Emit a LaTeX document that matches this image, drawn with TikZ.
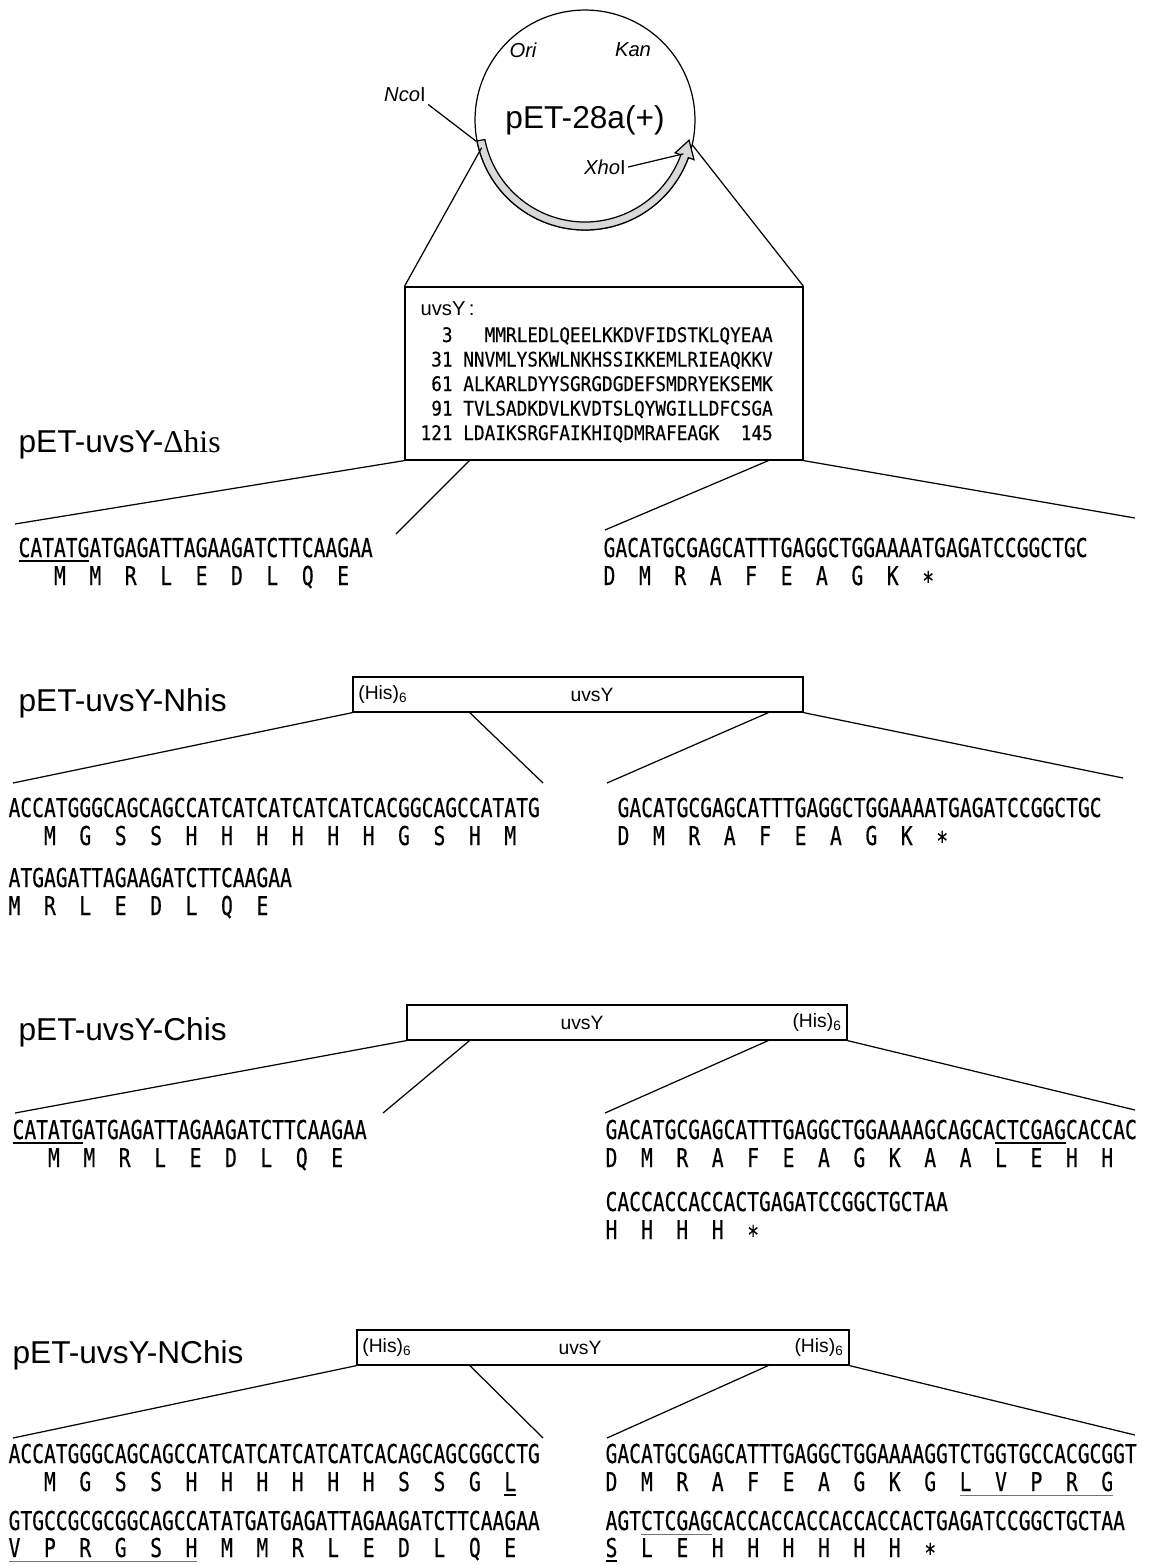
\documentclass[tikz,border=0pt]{standalone}
\usepackage{fontspec}
\setmainfont{Liberation Serif}
\setsansfont{Liberation Sans}
\newfontfamily\seqfont[FakeStretch=0.754, FakeBold=0.4]{DejaVu Sans Mono}
\newfontfamily\boxseqfont[FakeStretch=0.885, FakeBold=0.3]{DejaVu Sans Mono}
\usetikzlibrary{shapes, positioning, calc}
\newcommand\seqline[1]{\setbox0\hbox{#1}\rlap{\rule[-2.6pt]{\wd0}{1pt}}\box0}
\newcommand\seqgline[1]{\setbox0\hbox{#1}\rlap{\color{black!55}\rule[-2.6pt]{\wd0}{0.6pt}}\box0}

\begin{document}
\begin{tikzpicture}[x=0.02cm, y=0.02cm, line width=0.7pt]
\tikzset{title/.style={font=\fontsize{18pt}{20pt}\sffamily, anchor=base west, inner sep=0pt},
  seq/.style={font={\fontsize{14.8pt}{16pt}\seqfont\spaceskip=\fontcharwd\font`0\relax}, anchor=base west, inner sep=0pt},
  boxtxt/.style={font={\fontsize{11.4pt}{13pt}\boxseqfont\spaceskip=\fontcharwd\font`0\relax}, anchor=base west, inner sep=0pt},
  prot/.style={draw, rectangle, minimum height=0.7cm, inner sep=0pt},
  tag/.style={font=\fontsize{11pt}{12pt}\sffamily, inner sep=3pt},
  site/.style={font=\fontsize{11.5pt}{13pt}\sffamily, inner sep=1pt}}
\fill[white] (0,0) rectangle (1151,-1565);

% vector
\node[circle, draw, minimum size=4.4cm, inner sep=0pt, font=\fontsize{18pt}{20pt}\sffamily] (V) at (585,-120) {pET-28a(+)};
\begin{scope}[shift={(V.center)}]
\filldraw[fill=gray!30] (191:110) arc[start angle=191, end angle=340, radius=110] -- (340:116) -- (349:106) -- (340:96) -- (340:102) arc[start angle=340, end angle=191, radius=102] -- cycle;
\coordinate (ncoend) at (191:111);
\coordinate (xhoend) at (341:104);
\coordinate (c1) at (195:107);
\coordinate (c2) at (347:110);
\end{scope}
\node[site, font=\fontsize{11.5pt}{13pt}\sffamily\itshape] (ori) at (523,-50) {Ori};
\node[site, font=\fontsize{11.5pt}{13pt}\sffamily\itshape] (kan) at (633,-50) {Kan};
\node[site] (nco) at (405,-95) {\textit{Nco}I};
\node[site] (xho) at (605,-167) {\textit{Xho}I};
\draw (nco.south east) -- (ncoend);
\draw (xho.east) -- (xhoend);

% uvsY
\node[draw, rectangle, minimum width=7.96cm, minimum height=3.46cm] (B1) at (604,-373.5) {};
\draw (c1) -- (B1.north west); \draw (c2) -- (B1.north east);
\node[anchor=base west, inner sep=0pt, font=\fontsize{11.5pt}{13pt}\sffamily] (L0) at (420,-315) {uvsY\,:};
\node[boxtxt] (L1) at (420,-342) {~~3~~~MMRLEDLQEELKKDVFIDSTKLQYEAA};
\node[boxtxt] (L2) at (420,-366.5) {~31~NNVMLYSKWLNKHSSIKKEMLRIEAQKKV};
\node[boxtxt] (L3) at (420,-391) {~61~ALKARLDYYSGRGDGDEFSMDRYEKSEMK};
\node[boxtxt] (L4) at (420,-415.5) {~91~TVLSADKDVLKVDTSLQYWGILLDFCSGA};
\node[boxtxt] (L5) at (420,-440) {121~LDAIKSRGFAIKHIQDMRAFEAGK~~145};

% delta his
\node[title] (T1) at (18,-452) {pET-uvsY-{\rmfamily Δhis}};
\node[seq] (S1a) at (18,-557) {\seqline{CATATG}ATGAGATTAGAAGATCTTCAAGAA};
\node[seq] (A1a) at (18,-585) {~~~M~~M~~R~~L~~E~~D~~L~~Q~~E};
\node[seq] (S1b) at (603,-557) {GACATGCGAGCATTTGAGGCTGGAAAATGAGATCCGGCTGC};
\node[seq] (A1b) at (603,-585) {D~~M~~R~~A~~F~~E~~A~~G~~K~~∗};
\coordinate (B1l) at ($(B1.south west)!0.163!(B1.south east)$);
\coordinate (B1r) at ($(B1.south west)!0.912!(B1.south east)$);
\coordinate (r1a) at (15,-524); \coordinate (r1b) at (396,-534);
\coordinate (r1c) at (605,-530); \coordinate (r1d) at (1135,-518);
\draw (B1.south west) -- (r1a); \draw (B1l) -- (r1b);
\draw (B1r) -- (r1c); \draw (B1.south east) -- (r1d);

% N his
\node[title] (T2) at (18,-711) {pET-uvsY-Nhis};
\node[prot, minimum width=9cm] (B2) at (578,-694.5) {};
\node[tag, anchor=west] (H2) at (B2.west) {(His)\textsubscript{6}};
\node[tag] (U2) at (592,-694.5) {uvsY};
\node[seq] (S2a) at (8,-817) {ACCATGGGCAGCAGCCATCATCATCATCATCACGGCAGCCATATG};
\node[seq] (A2a) at (8,-845) {~~~M~~G~~S~~S~~H~~H~~H~~H~~H~~H~~G~~S~~H~~M};
\node[seq] (S2b) at (8,-887) {ATGAGATTAGAAGATCTTCAAGAA};
\node[seq] (A2b) at (8,-915) {M~~R~~L~~E~~D~~L~~Q~~E};
\node[seq] (S2c) at (617,-817) {GACATGCGAGCATTTGAGGCTGGAAAATGAGATCCGGCTGC};
\node[seq] (A2c) at (617,-845) {D~~M~~R~~A~~F~~E~~A~~G~~K~~∗};
\coordinate (B2l) at ($(B2.south west)!0.26!(B2.south east)$);
\coordinate (B2r) at ($(B2.south west)!0.922!(B2.south east)$);
\coordinate (r2a) at (13,-783); \coordinate (r2b) at (543,-783);
\coordinate (r2c) at (607,-783); \coordinate (r2d) at (1123,-778);
\draw (B2.south west) -- (r2a); \draw (B2l) -- (r2b);
\draw (B2r) -- (r2c); \draw (B2.south east) -- (r2d);

% C his
\node[title] (T3) at (18,-1040) {pET-uvsY-Chis};
\node[prot, minimum width=8.8cm] (B3) at (627,-1022.5) {};
\node[tag] (U3) at (582,-1022.5) {uvsY};
\node[tag, anchor=east] (H3) at (B3.east) {(His)\textsubscript{6}};
\node[seq] (S3a) at (12,-1139) {\seqline{CATATG}ATGAGATTAGAAGATCTTCAAGAA};
\node[seq] (A3a) at (12,-1167) {~~~M~~M~~R~~L~~E~~D~~L~~Q~~E};
\node[seq] (S3b) at (605,-1139) {GACATGCGAGCATTTGAGGCTGGAAAAGCAGCA\seqline{CTCGAG}CACCAC};
\node[seq] (A3b) at (605,-1167) {D~~M~~R~~A~~F~~E~~A~~G~~K~~A~~A~~L~~E~~H~~H};
\node[seq] (S3c) at (605,-1211) {CACCACCACCACTGAGATCCGGCTGCTAA};
\node[seq] (A3c) at (605,-1239) {H~~H~~H~~H~~∗};
\coordinate (B3l) at ($(B3.south west)!0.143!(B3.south east)$);
\coordinate (B3r) at ($(B3.south west)!0.82!(B3.south east)$);
\coordinate (r3a) at (15,-1113); \coordinate (r3b) at (383,-1113);
\coordinate (r3c) at (605,-1113); \coordinate (r3d) at (1135,-1110);
\draw (B3.south west) -- (r3a); \draw (B3l) -- (r3b);
\draw (B3r) -- (r3c); \draw (B3.south east) -- (r3d);

% NC his
\node[title] (T4) at (12,-1363) {pET-uvsY-NChis};
\node[prot, minimum width=9.84cm] (B4) at (603,-1347.5) {};
\node[tag, anchor=west] (H4a) at (B4.west) {(His)\textsubscript{6}};
\node[tag] (U4) at (580,-1347.5) {uvsY};
\node[tag, anchor=east] (H4b) at (B4.east) {(His)\textsubscript{6}};
\node[seq] (S4a) at (8,-1463) {ACCATGGGCAGCAGCCATCATCATCATCATCACAGCAGCGGCCTG};
\node[seq] (A4a) at (8,-1491) {~~~M~~G~~S~~S~~H~~H~~H~~H~~H~~H~~S~~S~~G~~\seqline{L}};
\node[seq] (S4b) at (8,-1530) {GTGCCGCGCGGCAGCCATATGATGAGATTAGAAGATCTTCAAGAA};
\node[seq] (A4b) at (8,-1557) {\seqgline{V~~P~~R~~G~~S~~H}~~M~~M~~R~~L~~E~~D~~L~~Q~~E};
\node[seq] (S4c) at (605,-1463) {GACATGCGAGCATTTGAGGCTGGAAAAGGTCTGGTGCCACGCGGT};
\node[seq] (A4c) at (605,-1491) {D~~M~~R~~A~~F~~E~~A~~G~~K~~G~~\seqgline{L~~V~~P~~R~~G}};
\node[seq] (S4d) at (605,-1530) {AGT\seqgline{CTCGAG}CACCACCACCACCACCACTGAGATCCGGCTGCTAA};
\node[seq] (A4d) at (605,-1557) {\seqline{S}~~L~~E~~H~~H~~H~~H~~H~~H~~∗};
\coordinate (B4l) at ($(B4.south west)!0.23!(B4.south east)$);
\coordinate (B4r) at ($(B4.south west)!0.835!(B4.south east)$);
\coordinate (r4a) at (13,-1438); \coordinate (r4b) at (543,-1438);
\coordinate (r4c) at (607,-1438); \coordinate (r4d) at (1135,-1435);
\draw (B4.south west) -- (r4a); \draw (B4l) -- (r4b);
\draw (B4r) -- (r4c); \draw (B4.south east) -- (r4d);
\end{tikzpicture}
\end{document}
